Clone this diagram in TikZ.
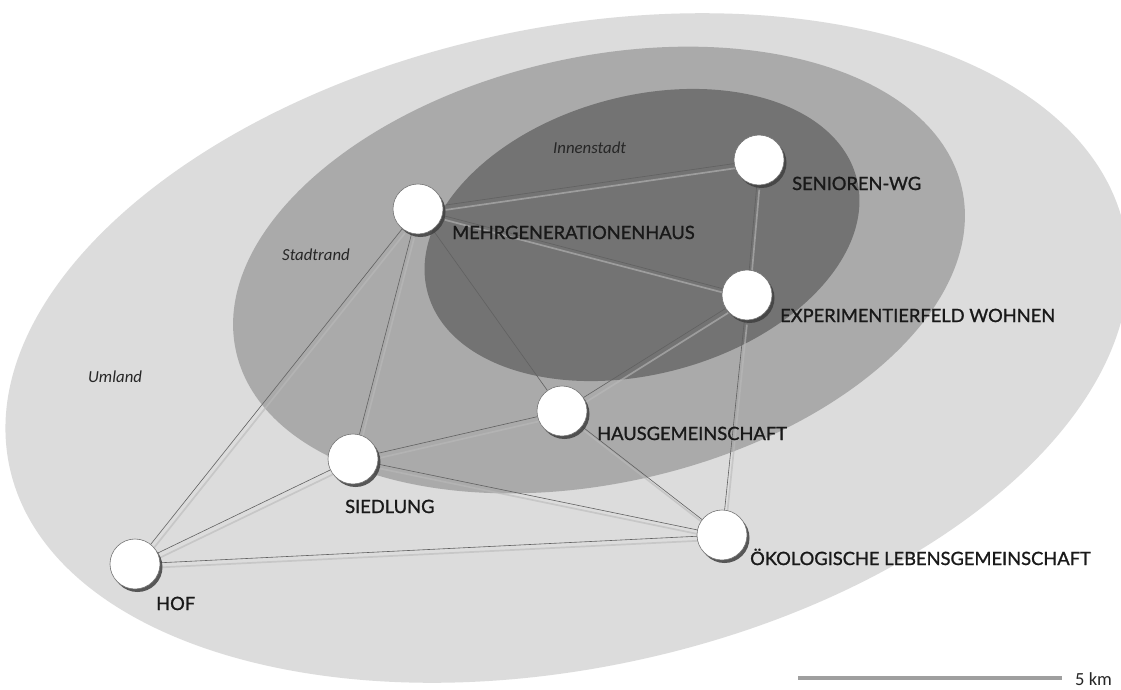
\documentclass[tikz,border=0pt]{standalone}
\usepackage{fontspec}
\setmainfont{Lato}
\newfontfamily\labfont{Lato}[FakeBold=1.2]
\newfontfamily\itfont{Carlito}
\usetikzlibrary{shadows}
\definecolor{zoneOut}{gray}{0.863}
\definecolor{zoneMid}{gray}{0.665}
\definecolor{zoneIn}{gray}{0.45}
\tikzset{
  place/.style={circle, fill=white, draw=black!55, line width=0.6pt, minimum size=50pt, inner sep=0pt,
    drop shadow={shadow xshift=2.5pt, shadow yshift=-3pt, fill=black!75, opacity=0.85}},
  lab/.style={anchor=base west, inner sep=0pt, text=black!90, font=\labfont\fontsize{18.3}{18}\selectfont},
  zlab/.style={anchor=base west, inner sep=0pt, text=black!85, font=\itfont\itshape\fontsize{16.8}{17}\selectfont},
  ln/.style={draw=black!62, line width=0.6pt},
  lnlight/.style={draw=gray!55, line width=1.7pt, opacity=0.6, transform canvas={xshift=2.5pt, yshift=-4.5pt}}
}
\begin{document}
\begin{tikzpicture}[x=1pt,y=-1pt]
\clip (0,0) rectangle (1121,689);
\fill[white] (0,0) rectangle (1121,689);
% zones
\fill[zoneOut, rotate around={12:(567,348)}] (567,348) ellipse [x radius=570pt, y radius=320pt];
\fill[zoneMid, rotate around={12.7:(599,270)}] (599,270) ellipse [x radius=372pt, y radius=213pt];
\fill[zoneIn, rotate around={15:(642,235)}] (642,235) ellipse [x radius=222pt, y radius=139pt];
% zone labels
\node[zlab] (zin) at (553,153) {Innenstadt};
\node[zlab] (zst) at (282,260) {Stadtrand};
\node[zlab] (zum) at (88,382) {Umland};
% node positions
\coordinate (pM) at (418,209);
\coordinate (pS) at (759,160);
\coordinate (pE) at (747,295);
\coordinate (pH) at (562,411);
\coordinate (pD) at (353,459);
\coordinate (pO) at (722,535);
\coordinate (pF) at (135,564);
% phantom nodes for edge endpoints
\foreach \p/\n in {pM/M,pS/S,pE/E,pH/H,pD/D,pO/O,pF/F}
  \node[circle, minimum size=50pt, inner sep=0pt] (\n) at (\p) {};
% edges: light companion lines
\foreach \a/\b in {M/S,M/E,M/D,M/F,S/E,E/H,E/O,H/D,H/O,D/F,D/O,F/O}
  \draw[lnlight] (\a) -- (\b);
% edges: dark lines
\foreach \a/\b in {M/S,M/E,M/H,M/D,M/F,S/E,E/H,E/O,H/D,H/O,D/F,D/O,F/O}
  \draw[ln] (\a) -- (\b);
% visible nodes
\foreach \p/\n in {pM/nM,pS/nS,pE/nE,pH/nH,pD/nD,pO/nO,pF/nF}
  \node[place] (\n) at (\p) {};
% labels
\node[lab] (lM) at (452,239) {MEHRGENERATIONENHAUS};
\node[lab] (lS) at (792,190) {SENIOREN-WG};
\node[lab] (lE) at (780,322) {EXPERIMENTIERFELD WOHNEN};
\node[lab] (lH) at (597,440) {HAUSGEMEINSCHAFT};
\node[lab] (lD) at (345,513) {SIEDLUNG};
\node[lab] (lO) at (750,565) {ÖKOLOGISCHE LEBENSGEMEINSCHAFT};
\node[lab] (lF) at (156,610) {HOF};
% scale bar
\coordinate (sb1) at (798,678);
\coordinate (sb2) at (1062,678);
\draw[gray!75, line width=3.3pt] (sb1) -- (sb2);
\node[anchor=base west, inner sep=0pt, text=black!85, font=\itfont\fontsize{18.5}{18}\selectfont] (km) at (1075,685) {5 km};
\end{tikzpicture}
\end{document}
